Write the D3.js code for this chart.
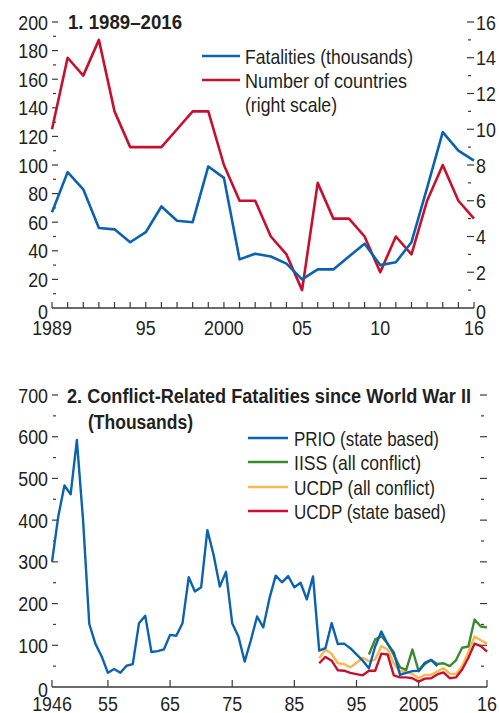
<!DOCTYPE html>
<html><head><meta charset="utf-8">
<script src="https://cdn.jsdelivr.net/npm/d3@7"></script>
<style>
html,body{margin:0;padding:0;background:#fff;}
svg text{font-family:"Liberation Sans",Arial,sans-serif;fill:#231f20;}
</style></head><body>
<svg id="c" width="499" height="713"></svg>
<script>
// ---------- Panel 1 data ----------
const years1 = d3.range(1989, 2017);
const fatalities = [67,95,83,56,55,46,53,71,61,60,99,91,34,38,36,31,20,27,27,36,45,30,32,46,84,123,110,103];
const countries = [10,14,13,15,11,9,9,9,10,11,11,8,6,6,4,3,1,7,5,5,4,2,4,3,6,8,6,5];
const xLabels1 = {1989:"1989",1995:"95",2000:"2000",2005:"05",2010:"10",2016:"16"};

// ---------- Panel 2 data ----------
const yearsPRIO = d3.range(1946, 2009);
const prio = [300,408,483,462,592,400,151,103,73,34,43,34,51,55,153,171,84,86,90,125,123,153,263,229,239,376,317,241,276,153,121,61,112,169,143,213,267,251,266,239,250,210,265,87,93,153,103,104,93,78,63,45,97,133,103,83,29,34,38,39,58,65,50];
const yearsIISS = d3.range(1997, 2017);
const iiss = [78,114,121,105,77,47,41,90,38,55,65,55,57,50,64,94,97,162,145,143];
const yearsUCDP = d3.range(1989, 2017);
const ucdpAll = [69,90,79,57,55,47,58,70,62,66,98,90,57,37,37,31,21,29,29,37,45,32,31,50,84,121,112,104];
const ucdpState = [57,72,63,40,39,34,31,28,39,39,80,78,28,23,23,21,13,20,21,30,35,21,23,42,70,104,98,85];
const xTicks2 = [1946,1955,1965,1975,1985,1995,2005,2016];
const xLabels2 = {1946:"1946",1955:"55",1965:"65",1975:"75",1985:"85",1995:"95",2005:"2005",2016:"16"};

const C = {blue:"#0b62b0", red:"#c8102e", green:"#3a8a2f", orange:"#fbb84f", axis:"#3a3a3a"};
const FS = 21, FT = 20;
const svg = d3.select("#c");

function yAxisTicks(g, scale, x, values, len, dir){
  g.selectAll(null).data(values).enter().append("line")
   .attr("x1", x).attr("x2", x + dir*len)
   .attr("y1", d=>scale(d)).attr("y2", d=>scale(d))
   .attr("stroke", C.axis).attr("stroke-width", 1.2);
}
function fitText(sel, w){
  sel.attr("textLength", w).attr("lengthAdjust","spacingAndGlyphs");
}

// ================= PANEL 1 =================
const x1 = d3.scaleLinear().domain([1989,2016]).range([52,474]);
const yL = d3.scaleLinear().domain([0,200]).range([308,22]);
const yR = d3.scaleLinear().domain([0,16]).range([308,22]);
const p1 = svg.append("g");

yAxisTicks(p1, yL, 52, d3.range(20,201,20), 6, 1);
yAxisTicks(p1, yL, 53, d3.range(10,200,20), 3, 1);
p1.selectAll(null).data(d3.range(0,201,20)).enter().append("text").attr("class","sq")
  .attr("x", 48).attr("y", d=>yL(d)+(d===0?3:0)).attr("dy","0.36em")
  .attr("text-anchor","end").attr("font-size",FS).text(d=>d);
yAxisTicks(p1, yR, 474, d3.range(2,17,2), 7, -1);
yAxisTicks(p1, yR, 471, d3.range(1,16,2), 3, -1);
p1.selectAll(null).data(d3.range(0,17,2)).enter().append("text").attr("class","sq")
  .attr("x", 476).attr("y", d=>yR(d)+(d===0?3:0)).attr("dy","0.36em")
  .attr("font-size",FS).text(d=>d);
p1.append("line").attr("x1",x1(1989)).attr("x2",x1(2016)).attr("y1",yL(0)).attr("y2",yL(0))
  .attr("stroke",C.axis).attr("stroke-width",1.4);
p1.selectAll(null).data(years1).enter().append("line")
  .attr("x1",d=>x1(d)).attr("x2",d=>x1(d)).attr("y1",yL(0)).attr("y2",yL(0)-6)
  .attr("stroke",C.axis).attr("stroke-width",1.2);
p1.selectAll(null).data(Object.keys(xLabels1)).enter().append("text").attr("class","sq")
  .attr("x",d=>x1(+d)).attr("y",yL(0)+27).attr("text-anchor","middle")
  .attr("font-size",FS).text(d=>xLabels1[d]);

const line1L = d3.line().x((d,i)=>x1(years1[i])).y(d=>yL(d));
const line1R = d3.line().x((d,i)=>x1(years1[i])).y(d=>yR(d));
p1.append("path").datum(countries).attr("d",line1R).attr("fill","none")
  .attr("stroke",C.red).attr("stroke-width",2.6).attr("stroke-linejoin","round");
p1.append("path").datum(fatalities).attr("d",line1L).attr("fill","none")
  .attr("stroke",C.blue).attr("stroke-width",2.6).attr("stroke-linejoin","round");

fitText(p1.append("text").attr("x",68).attr("y",29).attr("font-size",FT).attr("font-weight","bold").text("1. 1989–2016"), 114);
const leg1 = [{t:"Fatalities (thousands)",c:C.blue,y:56,w:168},{t:"Number of countries",c:C.red,y:80,w:162}];
leg1.forEach(l=>{
  p1.append("line").attr("x1",202).attr("x2",240).attr("y1",l.y).attr("y2",l.y).attr("stroke",l.c).attr("stroke-width",2.6);
  fitText(p1.append("text").attr("x",245).attr("y",l.y).attr("dy","0.36em").attr("font-size",FS).text(l.t), l.w);
});
fitText(p1.append("text").attr("x",245).attr("y",104).attr("dy","0.36em").attr("font-size",FS).text("(right scale)"), 92);

// ================= PANEL 2 =================
const x2 = d3.scaleLinear().domain([1946,2016]).range([52,487]);
const y2 = d3.scaleLinear().domain([0,700]).range([687,395]);
const p2 = svg.append("g");

yAxisTicks(p2, y2, 52, d3.range(100,701,100), 6, 1);
yAxisTicks(p2, y2, 53, d3.range(50,700,100), 3, 1);
p2.selectAll(null).data(d3.range(0,701,100)).enter().append("text").attr("class","sq")
  .attr("x",48).attr("y",d=>y2(d)+(d===0?2:0)).attr("dy","0.36em")
  .attr("text-anchor","end").attr("font-size",FS).text(d=>d);
yAxisTicks(p2, y2, 487, d3.range(100,701,100), 7, -1);
yAxisTicks(p2, y2, 484, d3.range(50,700,100), 3, -1);

p2.append("line").attr("x1",x2(1946)).attr("x2",x2(2016)).attr("y1",y2(0)).attr("y2",y2(0))
  .attr("stroke",C.axis).attr("stroke-width",1.4);
p2.selectAll(null).data(xTicks2).enter().append("line")
  .attr("x1",d=>x2(d)).attr("x2",d=>x2(d)).attr("y1",y2(0)).attr("y2",y2(0)-7)
  .attr("stroke",C.axis).attr("stroke-width",1.2);
p2.selectAll(null).data(xTicks2).enter().append("text").attr("class","sq")
  .attr("x",d=>x2(d)).attr("y",711).attr("text-anchor","middle")
  .attr("font-size",FS).text(d=>xLabels2[d]);

function drawSeries(yrs, vals, col){
  const ln = d3.line().x((d,i)=>x2(yrs[i])).y(d=>y2(d));
  p2.append("path").datum(vals).attr("d",ln).attr("fill","none")
    .attr("stroke",col).attr("stroke-width",2.4).attr("stroke-linejoin","round");
}
drawSeries(yearsUCDP, ucdpAll, C.orange);
drawSeries(yearsUCDP, ucdpState, C.red);
drawSeries(yearsIISS, iiss, C.green);
drawSeries(yearsPRIO, prio, C.blue);

fitText(p2.append("text").attr("x",67).attr("y",403).attr("font-size",FT).attr("font-weight","bold")
  .text("2. Conflict-Related Fatalities since World War II"), 404);
fitText(p2.append("text").attr("x",88).attr("y",429).attr("font-size",FT).attr("font-weight","bold")
  .text("(Thousands)"), 105);
const leg2 = [{t:"PRIO (state based)",c:C.blue,y:438,w:145},{t:"IISS (all conflict)",c:C.green,y:462,w:127},
              {t:"UCDP (all conflict)",c:C.orange,y:487,w:141},{t:"UCDP (state based)",c:C.red,y:511,w:152}];
leg2.forEach(l=>{
  p2.append("line").attr("x1",248).attr("x2",288).attr("y1",l.y).attr("y2",l.y).attr("stroke",l.c).attr("stroke-width",2.6);
  fitText(p2.append("text").attr("x",294).attr("y",l.y).attr("dy","0.36em").attr("font-size",FS).text(l.t), l.w);
});

// condensed tick labels, like the reference typeface
svg.selectAll("text.sq").each(function(){
  const t = d3.select(this), x = +t.attr("x");
  t.attr("transform", `translate(${x},0) scale(0.85,1) translate(${-x},0)`);
});
</script>
</body></html>
